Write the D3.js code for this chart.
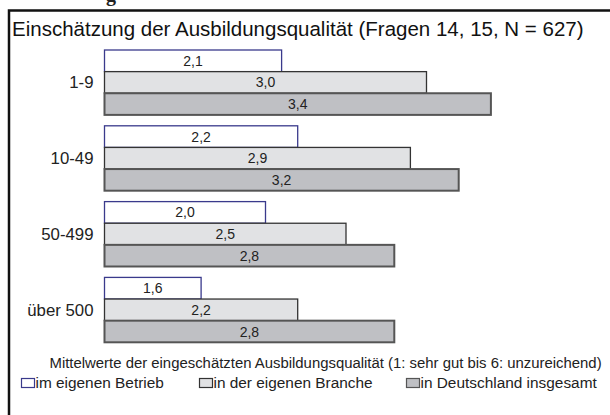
<!DOCTYPE html>
<html lang="de">
<head>
<meta charset="UTF-8">
<title>Einschätzung der Ausbildungsqualität</title>
<style>
    body { margin: 0; background: #fff; }
    svg { display: block; font-family: "Liberation Sans", Arial, sans-serif; }
</style>
</head>
<body>
<div id="chart"></div>
<script src="https://cdn.jsdelivr.net/npm/d3@7"></script>
<script>
// data
const categories = ['1-9', '10-49', '50-499', 'über 500'];
const seriesNames = ['im eigenen Betrieb', 'in der eigenen Branche', 'in Deutschland insgesamt'];
const betrieb = [2.1, 2.2, 2.0, 1.6];
const branche = [3.0, 2.9, 2.5, 2.2];
const deutschland = [3.4, 3.2, 2.8, 2.8];
const seriesValues = [betrieb, branche, deutschland];

const title = 'Einschätzung der Ausbildungsqualität (Fragen 14, 15, N = 627)';
const note = 'Mittelwerte der eingeschätzten Ausbildungsqualität (1: sehr gut bis 6: unzureichend)';

const fills = ['#ffffff', '#e1e2e4', '#bfc0c4'];
const strokes = ['#3a3a8c', '#333333', '#555555'];

const width = 610, height = 415;

const svg = d3.select('#chart').append('svg')
    .attr('width', width)
    .attr('height', height);

// fragment of the heading above the box (cut off in the original too)
svg.append('text')
    .attr('x', 106).attr('y', 1)
    .style('font-family', '"Liberation Serif", serif')
    .style('font-weight', 'bold')
    .style('font-size', '20px')
    .attr('fill', '#222')
    .text('g');

// frame
svg.append('rect')
    .attr('x', 9).attr('y', 10.5)
    .attr('width', 620).attr('height', 430)
    .attr('fill', 'none')
    .attr('stroke', '#111')
    .attr('stroke-width', 2.5);

svg.append('text')
    .attr('x', 12).attr('y', 36)
    .style('font-size', '20.5px')
    .attr('fill', '#111')
    .text(title);

// scales
const x = d3.scaleLinear().domain([1, 4]).range([104.5, 587.5]);
const y = d3.scaleBand().domain(categories).range([50, 342.3])
    .paddingInner(0.144).paddingOuter(0);
const ySub = d3.scaleBand().domain(d3.range(3)).range([0, y.bandwidth()]);

const rows = categories.map((c, i) => ({
    cat: c,
    vals: seriesValues.map((s, k) => ({ k: k, v: s[i] }))
}));

const groups = svg.selectAll('.group')
    .data(rows)
    .enter()
    .append('g')
    .attr('class', 'group')
    .attr('transform', d => `translate(0,${y(d.cat)})`);

groups.append('text')
    .attr('x', 93.5)
    .attr('y', y.bandwidth() / 2)
    .attr('dy', '0.36em')
    .attr('text-anchor', 'end')
    .style('font-size', '16.8px')
    .attr('fill', '#222')
    .text(d => d.cat);

const bars = groups.selectAll('.bar')
    .data(d => d.vals)
    .enter()
    .append('g')
    .attr('class', 'bar');

bars.append('rect')
    .attr('x', x(1))
    .attr('y', d => ySub(d.k))
    .attr('width', d => x(d.v) - x(1))
    .attr('height', ySub.bandwidth())
    .attr('fill', d => fills[d.k])
    .attr('stroke', d => strokes[d.k])
    .attr('stroke-width', d => d.k === 2 ? 2 : 1.3);

bars.append('text')
    .attr('x', d => (x(1) + x(d.v)) / 2)
    .attr('y', d => ySub(d.k) + ySub.bandwidth() / 2)
    .attr('dy', '0.36em')
    .attr('text-anchor', 'middle')
    .style('font-size', '14px')
    .attr('fill', '#222')
    .text(d => d3.format('.1f')(d.v).replace('.', ','));

// legend
svg.append('text')
    .attr('x', 49.5).attr('y', 367.5)
    .style('font-size', '14.9px')
    .attr('fill', '#222')
    .text(note);

const legendX = [21, 199, 406];
const legend = svg.selectAll('.legend')
    .data(seriesNames)
    .enter()
    .append('g')
    .attr('class', 'legend')
    .attr('transform', (d, i) => `translate(${legendX[i]},0)`);

legend.append('rect')
    .attr('x', 0.5).attr('y', 378.5)
    .attr('width', 13).attr('height', 9)
    .attr('fill', (d, i) => fills[i])
    .attr('stroke', (d, i) => strokes[i])
    .attr('stroke-width', 1.2);

legend.append('text')
    .attr('x', 14.5).attr('y', 387.5)
    .style('font-size', '15.4px')
    .attr('fill', '#222')
    .text(d => d);
</script>
</body>
</html>
